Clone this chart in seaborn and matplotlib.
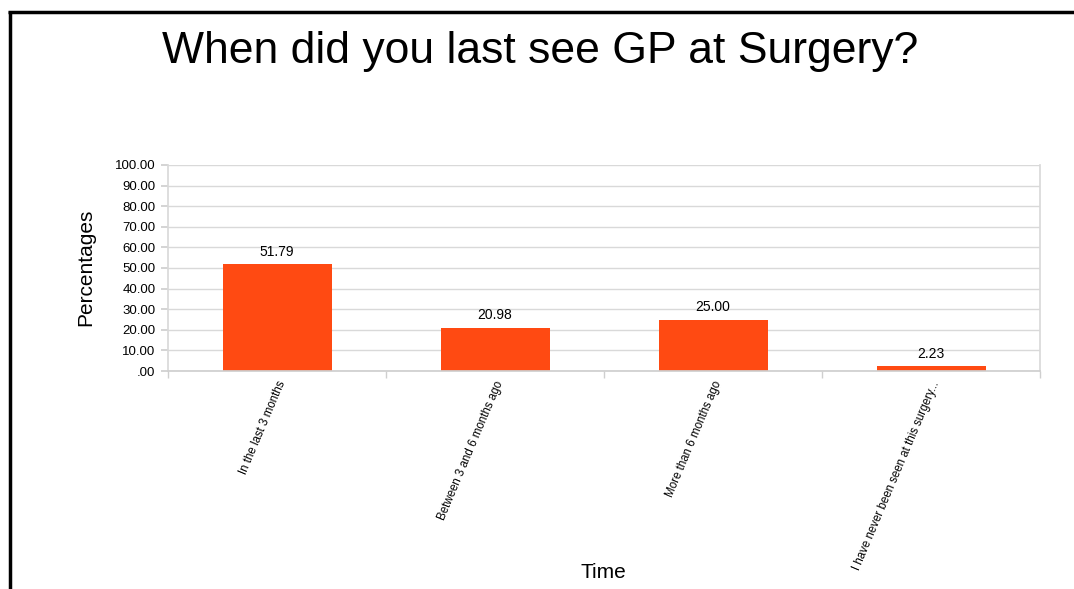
import matplotlib
matplotlib.use("Agg")
import matplotlib.pyplot as plt
import seaborn as sns
import pandas as pd
from matplotlib.lines import Line2D
from matplotlib.ticker import FixedLocator, FuncFormatter

categories = ["In the last 3 months", "Between 3 and 6 months ago",
              "More than 6 months ago", "I have never been seen at this surgery..."]
values = [51.79, 20.98, 25.00, 2.23]
yticks = [0, 10, 20, 30, 40, 50, 60, 70, 80, 90, 100]

sns.set_theme(style="white")
plt.rcParams['font.family'] = ['Liberation Sans', 'DejaVu Sans']
plt.rcParams['text.color'] = 'black'
plt.rcParams['xtick.color'] = 'black'
plt.rcParams['ytick.color'] = 'black'
plt.rcParams['axes.labelcolor'] = 'black'

df = pd.DataFrame({"Time": categories, "Percentages": values})

fig = plt.figure(figsize=(10.74, 5.89), dpi=100)
ax = fig.add_axes([168/1074, 1-371/589, (1040-168)/1074, (371-165)/589])

sns.barplot(data=df, x="Time", y="Percentages", color="#FF4A12", saturation=1,
            width=0.5, ax=ax, edgecolor="none")

ax.set_ylim(0, 100)
ax.set_xlim(-0.5, len(categories)-0.5)
ax.yaxis.set_major_locator(FixedLocator(yticks))

def fmt(v, pos):
    s = f"{v:.2f}"
    if s.startswith("0"):
        s = s[1:]
    return s
ax.yaxis.set_major_formatter(FuncFormatter(fmt))
ax.grid(axis="y", color="#d9d9d9", linewidth=1)
ax.set_axisbelow(True)

for side in ["left", "right"]:
    ax.spines[side].set_visible(True)
    ax.spines[side].set_color("#d9d9d9")
ax.spines["bottom"].set_color("#cfcfcf")
ax.spines["top"].set_visible(False)

ax.tick_params(axis="y", length=5, color="#cfcfcf", labelcolor="black", labelsize=9.5, pad=4, left=True)
ax.set_xticks(range(len(categories)))
ax.set_xticklabels(categories, rotation=67, ha="right", rotation_mode="anchor", fontsize=8.3)
ax.tick_params(axis="x", which="major", length=0, pad=6, labelcolor="black")
ax.xaxis.set_minor_locator(FixedLocator([i - 0.5 for i in range(len(categories)+1)]))
ax.tick_params(axis="x", which="minor", length=5, color="#cfcfcf", bottom=True)

for i, v in enumerate(values):
    ax.annotate(f"{v:.2f}", (i, v), xytext=(0, 4), textcoords="offset points",
                ha="center", va="bottom", fontsize=10, color="black")

ax.set_xlabel("")
ax.set_ylabel("")
fig.text(86/1074, 1-267/589, "Percentages", rotation=90, ha="center", va="center",
         fontsize=15, color="black")
fig.text(603/1074, 1-572/589, "Time", ha="center", va="center", fontsize=15, color="black")
fig.text(540/1074, 1-52/589, "When did you last see GP at Surgery?", ha="center",
         va="center", fontsize=32, color="black")

fig.add_artist(Line2D([9.5/1074, 9.5/1074], [0, 1-11/589], transform=fig.transFigure,
                      color="black", linewidth=2.5, solid_capstyle="butt"))
fig.add_artist(Line2D([8/1074, 1], [1-12/589, 1-12/589], transform=fig.transFigure,
                      color="black", linewidth=2.5, solid_capstyle="butt"))

fig.savefig("out.png", dpi=100, facecolor="white")
